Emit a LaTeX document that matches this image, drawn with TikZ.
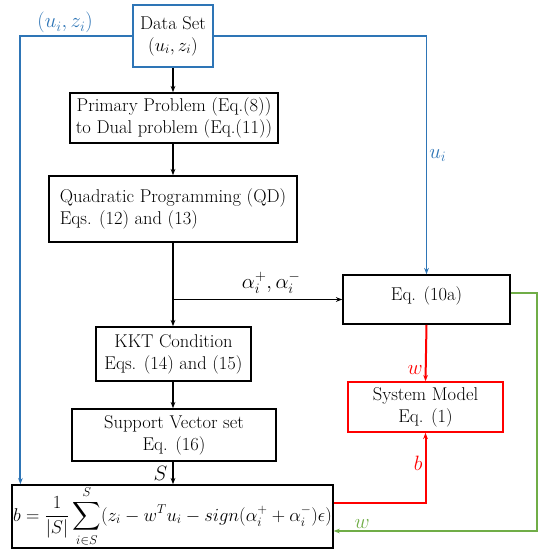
\documentclass[tikz,border=0pt]{standalone}
\usepackage{amsmath,amssymb}
\usepackage{graphicx}
\usepackage{xcolor}
\usepackage{tikz}
\usetikzlibrary{positioning,arrows.meta,calc}
\definecolor{dsblue}{RGB}{46,117,182}
\definecolor{smred}{RGB}{255,0,0}
\definecolor{wgreen}{RGB}{112,173,71}
\tikzset{
  box/.style={rectangle, draw=black, line width=1.6pt, align=center, inner sep=1pt, font=\fontsize{18.5}{22}\selectfont},
  fwd/.style={-{Stealth[length=2.2mm]}, line width=1.2pt, color=black},
  blu/.style={-{Stealth[length=2.2mm]}, line width=1.8pt, color=dsblue},
  red/.style={-{Stealth[length=2.2mm]}, line width=2pt, color=smred},
  grn/.style={-{Stealth[length=2.2mm]}, line width=1.8pt, color=wgreen},
  lab/.style={font=\fontsize{20}{24}\selectfont, inner sep=2pt}
}
\begin{document}
\begin{tikzpicture}[x=1pt, y=-1pt]
\useasboundingbox (0,0) rectangle (539,549);
% main chain
\node[box, draw=dsblue, minimum width=80pt, minimum height=62pt] (data) at (173,36) {Data Set\\\scalebox{1.07}{$(u_i,z_i)$}};
\node[box, minimum width=208pt, minimum height=50pt] (prim) at (174,118) {Primary Problem (Eq.(8))\\to Dual problem (Eq.(11))};
\node[box, minimum width=248pt, minimum height=66pt, align=left] (qp) at (173,209) {Quadratic Programming (QD)\\Eqs. (12) and (13)};
\node[box, minimum width=155pt, minimum height=54pt] (kkt) at (173.5,354) {KKT Condition\\Eqs. (14) and (15)};
\node[box, minimum width=204pt, minimum height=52pt] (sv) at (174,435) {Support Vector set\\Eq. (16)};
\node[box, minimum width=319pt, minimum height=63pt] (fm) at (172.5,516.5)
  {\scalebox{1.07}{$\displaystyle b=\frac{1}{|S|}\sum_{i\in S}^{S}(z_i-w^Tu_i-sign(\alpha_i^{+}+\alpha_i^{-})\epsilon)$}};
% right side
\node[box, minimum width=167pt, minimum height=49pt] (eqa) at (426.5,299.5) {Eq. (10a)\\[-10pt]};
\node[box, draw=smred, minimum width=155pt, minimum height=50pt] (sm) at (425.5,407) {System Model\\Eq. (1)};
\coordinate (jn) at (qp.south |- eqa.west);
\draw[fwd] (data.south) -- (data.south |- prim.north);
\draw[fwd] (data.south |- prim.south) -- (data.south |- qp.north);
\draw[fwd] (qp.south) -- (qp.south |- kkt.north);
\draw[fwd] (jn) -- node[lab, above, pos=0.58, yshift=3pt] {$\alpha_i^{+},\alpha_i^{-}$} (eqa.west);
\draw[fwd] (qp.south |- kkt.south) -- (qp.south |- sv.north);
\draw[fwd] (qp.south |- sv.south) -- node[lab, left, xshift=-3pt] {$S$} (qp.south |- fm.north);
% data lines
\draw[blu] (data.west) -| node[lab, pos=0.3, above, text=dsblue] {$(u_i,z_i)$} ([xshift=9pt]fm.north west);
\draw[blu] (data.east) -| node[lab, pos=0.75, right, text=dsblue] {$u_i$} (eqa.north);
\draw[red] (eqa.south) -- node[lab, left, pos=0.8, text=smred] {$w$} (sm.north);
\draw[red] ([yshift=13.5pt]fm.east) -| node[lab, pos=0.78, left, text=smred] {$b$} (sm.south);
\draw[grn] ([yshift=6.5pt]eqa.east) -- ++(26,0) |- node[lab, pos=0.93, above, text=wgreen] {$w$} ([yshift=-14.5pt]fm.east);
\end{tikzpicture}
\end{document}
